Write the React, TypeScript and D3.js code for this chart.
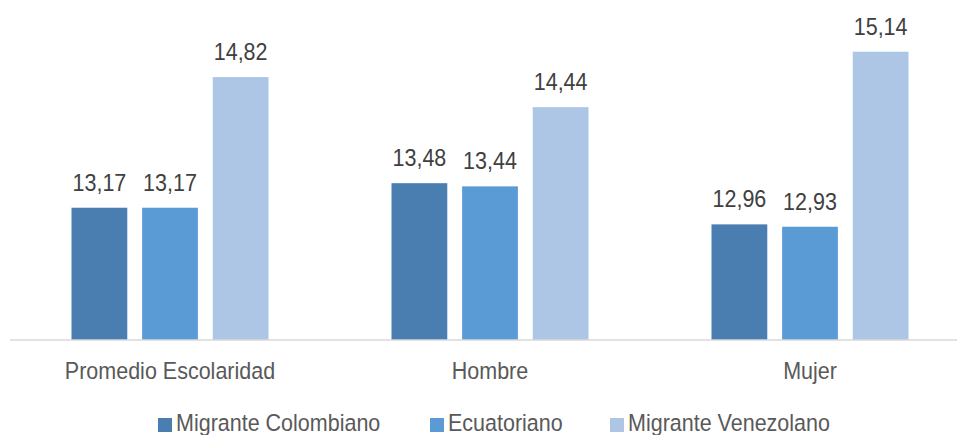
import React, { useEffect, useRef } from 'react';
import * as d3 from 'd3';

const categories = ['Promedio Escolaridad', 'Hombre', 'Mujer'];
const seriesNames = ['Migrante Colombiano', 'Ecuatoriano', 'Migrante Venezolano'];
const colombiano = [13.17, 13.48, 12.96];
const ecuatoriano = [13.17, 13.44, 12.93];
const venezolano = [14.82, 14.44, 15.14];
const colors = ['#4a7eb0', '#5b9bd5', '#aec6e5'];

const App: React.FC = () => {
  const ref = useRef<SVGSVGElement>(null);

  useEffect(() => {
    const width = 957;
    const height = 435;
    const svg = d3.select(ref.current);
    svg.selectAll('*').remove();
    svg.attr('width', width).attr('height', height);

    const font = '"Liberation Sans", Arial, sans-serif';
    const series = [colombiano, ecuatoriano, venezolano];

    const x0 = d3.scaleBand<string>().domain(categories).range([10, 970]).paddingInner(0).paddingOuter(0);
    // bars occupy ~197px of the 320px band
    const groupPad = (x0.bandwidth() - 197) / 2;
    const x1 = d3.scaleBand<number>().domain([0, 1, 2]).range([0, 197]).paddingInner(0.21).paddingOuter(0);
    const y = d3.scaleLinear().domain([11.5, 16]).range([340, 340 - 4.5 * 79.2]);

    const data = categories.flatMap((c, ci) =>
      series.map((s, si) => ({ cat: c, si, value: s[ci] }))
    );

    const g = svg.append('g');

    g.selectAll('.bar')
      .data(data)
      .enter().append('rect')
      .attr('class', 'bar')
      .attr('x', d => (x0(d.cat) as number) + groupPad + (x1(d.si) as number))
      .attr('y', d => y(d.value))
      .attr('width', x1.bandwidth())
      .attr('height', d => y(11.5) - y(d.value))
      .attr('fill', d => colors[d.si]);

    // axis line
    g.append('line')
      .attr('x1', 10).attr('x2', width)
      .attr('y1', y(11.5)).attr('y2', y(11.5))
      .attr('stroke', '#d9d9d9')
      .attr('stroke-width', 1.5);

    // value labels
    g.selectAll('.val')
      .data(data)
      .enter().append('text')
      .attr('class', 'val')
      .attr('transform', d => {
        const cx = (x0(d.cat) as number) + groupPad + (x1(d.si) as number) + x1.bandwidth() / 2;
        return `translate(${cx},${y(d.value) - 17}) scale(1,1.1)`;
      })
      .attr('text-anchor', 'middle')
      .style('font-family', font)
      .style('font-size', '21.5px')
      .attr('fill', '#404040')
      .text(d => d3.format('.2f')(d.value).replace('.', ','));

    // category labels
    g.selectAll('.cat')
      .data(categories)
      .enter().append('text')
      .attr('class', 'cat')
      .attr('transform', d => `translate(${(x0(d) as number) + x0.bandwidth() / 2},379) scale(1,1.1)`)
      .attr('text-anchor', 'middle')
      .style('font-family', font)
      .style('font-size', '21.5px')
      .attr('fill', '#595959')
      .text(d => d);

    // legend
    const legendX = [158, 430, 610];
    const legend = g.selectAll('.leg')
      .data(seriesNames)
      .enter().append('g')
      .attr('class', 'leg')
      .attr('transform', (d, i) => `translate(${legendX[i]},0)`);

    legend.append('rect')
      .attr('x', 0).attr('y', 418)
      .attr('width', 14).attr('height', 14)
      .attr('fill', (d, i) => colors[i]);

    legend.append('text')
      .attr('transform', 'translate(18,431) scale(1,1.1)')
      .style('font-family', font)
      .style('font-size', '21.5px')
      .attr('fill', '#595959')
      .text(d => d);
  }, []);

  return (
    <div style={{ position: 'absolute', left: 0, top: 0, width: 957, height: 435, background: '#fff' }}>
      <svg ref={ref}></svg>
    </div>
  );
};

export default App;
